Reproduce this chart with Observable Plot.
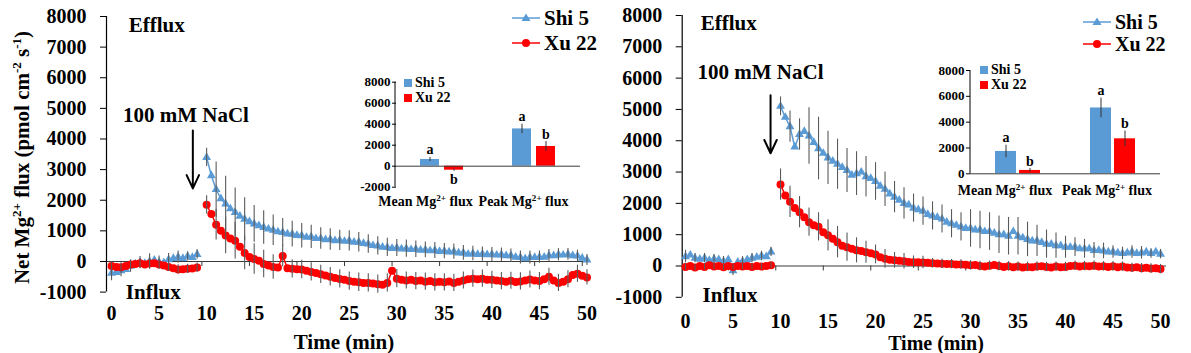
<!DOCTYPE html>
<html><head><meta charset="utf-8">
<script src="https://cdn.jsdelivr.net/npm/d3@7"></script>
<script src="https://cdn.jsdelivr.net/npm/@observablehq/plot@0.6"></script>
<style>
body{margin:0;background:#fff;}
#root{position:relative;width:1191px;height:353px;overflow:hidden;background:#fff;font-family:"Liberation Serif","Times New Roman",serif;font-weight:bold;color:#000}
#root sup{font-size:0.62em;vertical-align:0.55em;line-height:0}
#root svg text{font-family:"Liberation Serif","Times New Roman",serif;font-weight:bold}
</style></head><body><div id="root"></div>
<script>
// ---------- data ----------
const seriesNames = ["Shi 5", "Xu 22"];
const timePre = [0,0.5,1,1.5,2,2.5,3,3.5,4,4.5,5,5.5,6,6.5,7,7.5,8,8.5,9];
const timePost = [10,10.5,11,11.5,12,12.5,13,13.5,14,14.5,15,15.5,16,16.5,17,17.5,18,18.5,19,19.5,20,20.5,21,21.5,22,22.5,23,23.5,24,24.5,25,25.5,26,26.5,27,27.5,28,28.5,29,29.5,30,30.5,31,31.5,32,32.5,33,33.5,34,34.5,35,35.5,36,36.5,37,37.5,38,38.5,39,39.5,40,40.5,41,41.5,42,42.5,43,43.5,44,44.5,45,45.5,46,46.5,47,47.5,48,48.5,49,49.5,50];
const errTimePre = [0,1,2,3,4,5,6,7,8,9];
const errTimePost = [10,11,12,13,14,15,16,17,18,19,20,21,22,23,24,25,26,27,28,29,30,31,32,33,34,35,36,37,38,39,40,41,42,43,44,45,46,47,48,49,50];
const xTicks = [0,5,10,15,20,25,30,35,40,45,50];
const xMinorTicks = [4.5,9.5,14.5,19.5,24.5,29.5,34.5,39.5,44.5,49.5];
const yTicks = [-1000,0,1000,2000,3000,4000,5000,6000,7000,8000];

// left panel
const leftShiPre = [-380,-360,-300,-260,-150,-80,-40,-60,0,40,-20,-40,60,100,140,100,170,130,230];
const leftShiPost = [3400,2800,2350,2050,1880,1720,1600,1480,1380,1300, 1230,1170,1110,1060,1020,970,950,900,890,850, 840,790,800,750,750,710,720,680,690,660, 670,630,630,590,570,520,510,470,460,430, 440,410,420,390,400,370,380,350,360,330, 340,310,320,280,280,240,260,230,240,220, 230,210,220,190,190,140,130,90,130,130, 140,140,190,190,220,210,230,190,180,110, 50];
const leftXuPre = [-150,-180,-190,-150,-100,-80,-60,-100,-70,-60,-100,-130,-180,-220,-260,-250,-240,-230,-200];
const leftXuPost = [1850,1550,1200,1000,850,750,680,480,280,150, 80,20,-80,-130,-180,-200,180,-220,-240,-250, -260,-300,-340,-380,-420,-460,-500,-540,-570,-600, -640,-660,-680,-700,-700,-720,-740,-760,-700,-300, -560,-600,-620,-600,-640,-620,-660,-640,-680,-660, -680,-650,-700,-660,-620,-580,-560,-580,-560,-600, -600,-620,-640,-660,-630,-670,-650,-620,-590,-620, -640,-580,-500,-620,-700,-660,-580,-440,-400,-470, -520];
const leftShiErrPre = [250,200,200,200,250,200,200,200,150,150];
const leftShiErrPost = [300,900,900,800,700,600,550,500,450,420, 400,380,350,350,330,330,320,300,300,300, 280,280,270,260,260,250,250,240,240,230, 230,220,220,210,210,200,200,200,190,190, 180];
const leftXuErrPre = [150,150,150,150,150,150,150,150,150,150];
const leftXuErrPost = [300,500,600,600,550,500,450,400,350,300, 300,300,300,300,300,300,300,300,300,300, 300,280,280,280,280,280,280,280,280,280, 280,280,280,280,280,280,280,280,280,280, 250];
const leftNotes = [
  {x: 1.8, y: 7700, text: "Efflux"},
  {x: 1.5, y: -1010, text: "Influx"},
  {x: 1.2, y: 4770, text: "100 mM NaCl"}
];
const leftArrow = [{x: 8.55, y1: 4280, y2: 2385}];

// right panel
const rightShiPre = [300,350,250,220,250,180,220,200,150,200,-150,120,150,200,250,280,320,300,450];
const rightShiPost = [5100,4750,4450,3800,4200,4300,4150,3950,3750,3600, 3450,3350,3250,3150,3050,2900,2950,3000,2850,2800, 2700,2550,2450,2300,2200,2100,2000,1950,1850,1800, 1750,1650,1600,1550,1500,1400,1350,1300,1250,1200, 1200,1150,1150,1100,1100,1050,1000,1000,950,1100, 950,900,850,800,800,750,700,700,650,650, 600,600,600,550,550,550,500,500,480,450, 450,420,400,420,450,400,420,450,400,450, 380];
const rightXuPre = [-30,0,-50,0,-30,20,-20,0,-40,0,-30,0,-20,0,-30,0,-20,0,20];
const rightXuPost = [2600,2250,2050,1850,1720,1560,1400,1300,1250,1080, 980,870,760,650,600,550,500,480,440,410, 370,280,230,200,180,170,150,130,120,120, 110,100,90,80,70,60,60,50,50,40, 20,30,0,-20,10,30,0,-30,-10,-40, -20,-50,-30,-40,-20,-10,-30,-50,-20,-40, -30,0,10,-20,0,-10,10,-20,-10,-30, -10,-40,-20,-50,-60,-40,-70,-60,-80,-70, -100];
const rightShiErrPre = [200,150,150,150,150,150,150,150,150,150];
const rightShiErrPost = [300,500,500,900,1000,850,800,700,700,650, 600,550,500,500,450,450,450,450,450,450, 600,600,600,600,600,600,550,500,450,400, 350,300,300,250,250,200,200,200,200,150, 150];
const rightXuErrPre = [100,100,100,100,100,100,100,100,100,100];
const rightXuErrPost = [500,500,500,450,450,500,500,450,400,350, 300,300,250,250,200,200,150,150,150,150, 150,150,150,150,150,150,150,150,150,150, 150,150,150,150,150,150,150,150,150,150, 150];
const rightNotes = [
  {x: 1.6, y: 7750, text: "Efflux"},
  {x: 1.8, y: -950, text: "Influx"},
  {x: 1.26, y: 6180, text: "100 mM NaCl"}
];
const rightArrow = [{x: 8.95, y1: 5450, y2: 3600}];

// insets
const insetCats = ["Mean Mg2+ flux", "Peak Mg2+ flux"];
const leftInsetShi = [640, 3550], leftInsetShiErr = [200, 450];
const leftInsetXu = [-380, 1880], leftInsetXuErr = [100, 470];
const rightInsetShi = [1730, 5100], rightInsetShiErr = [480, 760];
const rightInsetXu = [260, 2710], rightInsetXuErr = [150, 600];
const insetLettersShi = ["a", "a"], insetLettersXu = ["b", "b"];
const leftInsetTicks = [-2000,0,2000,4000,6000,8000];
const rightInsetTicks = [0,2000,4000,6000,8000];

// ---------- drawing ----------
const blue = "#5B9BD5", red = "#FF0000", errGray = "#5a5a5a";
const root = document.getElementById("root");
const FONT = "Liberation Serif, Times New Roman, serif";

function put(el, left, top) {
  el.style.position = "absolute";
  el.style.left = left + "px";
  el.style.top = top + "px";
  root.appendChild(el);
}

function styleSvg(svg, size) {
  svg.setAttribute("font-family", FONT);
  svg.setAttribute("font-weight", "bold");
  svg.setAttribute("font-size", size);
  svg.style.fontFamily = FONT;
  svg.style.fontWeight = "bold";
  svg.style.overflow = "visible";
  svg.style.background = "transparent";
  svg.style.maxWidth = "none";
}

function mainChart(c) {
  const rows = [];
  const add = (times, vals, s, seg) => times.forEach((t, i) => rows.push({t, v: vals[i], s, seg}));
  add(timePre, c.shiPre, seriesNames[0], "a"); add(timePost, c.shiPost, seriesNames[0], "b");
  add(timePre, c.xuPre, seriesNames[1], "c"); add(timePost, c.xuPost, seriesNames[1], "d");
  const look = new Map(rows.map(d => [d.s + "|" + d.t, d.v]));
  const errs = [];
  const addErr = (times, es, s) => times.forEach((t, i) => {
    const v = look.get(s + "|" + t);
    errs.push({t, lo: v - es[i], hi: v + es[i], s});
  });
  addErr(errTimePre, c.shiErrPre, seriesNames[0]); addErr(errTimePost, c.shiErrPost, seriesNames[0]);
  addErr(errTimePre, c.xuErrPre, seriesNames[1]); addErr(errTimePost, c.xuErrPost, seriesNames[1]);
  const shi = rows.filter(d => d.s === seriesNames[0]);
  const xu = rows.filter(d => d.s === seriesNames[1]);
  const yDom = [yTicks[0], yTicks[yTicks.length - 1]];
  const svg = Plot.plot({
    width: c.width, height: 353,
    marginLeft: c.ml, marginRight: c.mr, marginTop: c.mt, marginBottom: c.mb,
    x: {domain: c.xDom, axis: null},
    y: {domain: yDom, axis: null},
    marks: [
      Plot.ruleY([0], {stroke: "#3a3a3a", strokeWidth: 1.2}),
      Plot.ruleX(xMinorTicks, {y1: 0, y2: c.minorLen, stroke: "#3a3a3a"}),
      Plot.ruleX([c.xDom[0]], {y1: yDom[0], y2: yDom[1], stroke: "#000", strokeWidth: 1.2}),
      Plot.axisY({ticks: yTicks, tickSize: 6, tickPadding: 14, tickFormat: d => String(d), fontSize: 20, fontFamily: FONT, fontWeight: "bold", label: null, stroke: "#000"}),
      Plot.axisX({ticks: xTicks, tickSize: 0, tickPadding: c.xPad, tickFormat: d => String(d), fontSize: 20, fontFamily: FONT, fontWeight: "bold", label: null}),
      Plot.line(shi, {x: "t", y: "v", z: "seg", stroke: blue, strokeWidth: 1.5}),
      Plot.dot(shi, {x: "t", y: "v", symbol: "triangle", r: 3.3, fill: blue}),
      Plot.ruleX(errs.filter(d => d.s === seriesNames[0]), {x: "t", y1: "lo", y2: "hi", stroke: errGray, strokeWidth: 1.1}),
      Plot.line(xu, {x: "t", y: "v", z: "seg", stroke: red, strokeWidth: 1.5}),
      Plot.dot(xu, {x: "t", y: "v", r: 4, fill: red}),
      Plot.ruleX(errs.filter(d => d.s === seriesNames[1]), {x: "t", y1: "lo", y2: "hi", stroke: errGray, strokeWidth: 1.1}),
      Plot.arrow(c.arrow, {x1: "x", x2: "x", y1: "y1", y2: "y2", stroke: "#000", strokeWidth: 2, headLength: 11, headAngle: 50}),
      Plot.text(c.notes, {x: "x", y: "y", text: "text", textAnchor: "start", fontSize: 21, fontFamily: FONT, fontWeight: "bold", fill: "#000"})
    ]
  });
  styleSvg(svg, 20);
  put(svg, c.left, 0);
}

function addSup(svg) {
  d3.select(svg).selectAll("text").each(function () {
    const node = this.querySelector("tspan") || this;
    const m = (node.textContent || "").match(/^(.*Mg)(2\+)(.*)$/);
    if (!m) return;
    const sel = d3.select(node);
    sel.text(null);
    sel.append("tspan").text(m[1]);
    sel.append("tspan").attr("baseline-shift", "super").attr("font-size", "65%").text(m[2]);
    sel.append("tspan").text(m[3]);
  });
}

function inset(c) {
  const rows = [];
  insetCats.forEach((cat, i) => {
    rows.push({cat, s: seriesNames[0], v: c.shi[i], e: c.shiErr[i], L: insetLettersShi[i]});
    rows.push({cat, s: seriesNames[1], v: c.xu[i], e: c.xuErr[i], L: insetLettersXu[i]});
  });
  const txt = {fontFamily: FONT, fontWeight: "bold", fill: "#000"};
  const svg = Plot.plot({
    width: c.width, height: c.height,
    marginLeft: c.ml, marginRight: c.mr, marginTop: c.mt, marginBottom: c.mb,
    fx: {domain: insetCats, padding: 0, axis: null},
    x: {domain: seriesNames, paddingInner: c.pi, paddingOuter: c.po, axis: null},
    y: {domain: [c.ticks[0], c.ticks[c.ticks.length - 1]], axis: null},
    color: {domain: seriesNames, range: [blue, red]},
    marks: [
      Plot.axisY({ticks: c.ticks, tickSize: 4, tickPadding: 2, tickFormat: d => String(d), fontSize: 13, label: null, stroke: "#000", ...txt}),
      Plot.axisFx({ticks: [insetCats[0]], anchor: "bottom", tickSize: 0, tickPadding: c.fxPad, fontSize: 14, label: null, dx: c.fxDx[0], ...txt}),
      Plot.axisFx({ticks: [insetCats[1]], anchor: "bottom", tickSize: 0, tickPadding: c.fxPad, fontSize: 14, label: null, dx: c.fxDx[1], ...txt}),
      Plot.barY(rows, {fx: "cat", x: "s", y: "v", fill: "s"}),
      Plot.ruleY([0], {stroke: "#3a3a3a"}),
      Plot.ruleX(rows, {fx: "cat", x: "s", y1: d => d.v - d.e, y2: d => d.v + d.e, stroke: "#333", strokeWidth: 1}),
      Plot.text(rows.filter(d => d.v >= 0), {fx: "cat", x: "s", y: d => d.v + d.e, text: "L", lineAnchor: "bottom", dy: -3, fontSize: 14, ...txt}),
      Plot.text(rows.filter(d => d.v < 0), {fx: "cat", x: "s", y: d => d.v - d.e, text: "L", lineAnchor: "top", dy: 3, fontSize: 14, ...txt})
    ]
  });
  // y-axis line along the frame's left edge
  d3.select(svg).append("line")
    .attr("x1", c.ml).attr("x2", c.ml)
    .attr("y1", c.mt).attr("y2", c.height - c.mb)
    .attr("stroke", "#000");
  styleSvg(svg, 13);
  addSup(svg);
  put(svg, c.left, c.top);
}

function mainLegend(left, centers, fs) {
  seriesNames.forEach((name, i) => {
    const div = document.createElement("div");
    div.style.cssText = `height:18px;display:flex;align-items:center;font-size:${fs}px;line-height:18px;white-space:nowrap`;
    const col = i === 0 ? blue : red;
    const marker = i === 0
      ? `<polygon points="14,4.5 18.5,12 9.5,12" fill="${col}"/>`
      : `<circle cx="14" cy="9" r="4" fill="${col}"/>`;
    div.innerHTML = `<svg width="28" height="18" style="display:block"><line x1="0" x2="28" y1="9" y2="9" stroke="${col}" stroke-width="1.5"/>${marker}</svg><span style="margin-left:4px">${name}</span>`;
    put(div, left, centers[i] - 9);
  });
}

function insetLegend(left, centers) {
  seriesNames.forEach((name, i) => {
    const div = document.createElement("div");
    div.style.cssText = "height:14px;display:flex;align-items:center;font-size:14px;line-height:14px;white-space:nowrap";
    div.innerHTML = `<span style="display:inline-block;width:8px;height:8px;background:${i === 0 ? blue : red}"></span><span style="margin-left:3px">${name}</span>`;
    put(div, left, centers[i] - 7);
  });
}

function label(html, cx, cy, fontSize, rotate) {
  const div = document.createElement("div");
  div.style.cssText = `width:320px;text-align:center;font-size:${fontSize}px;line-height:${fontSize}px;white-space:nowrap;` +
    (rotate ? "transform:rotate(-90deg);transform-origin:50% 50%;" : "");
  div.innerHTML = html;
  put(div, cx - 160, cy - fontSize / 2);
}

mainChart({
  left: 0, width: 600, ml: 106, mr: 10, mt: 16, mb: 61.4, xDom: [-0.53, 50.37], xPad: 14, minorLen: -165,
  shiPre: leftShiPre, shiPost: leftShiPost, xuPre: leftXuPre, xuPost: leftXuPost,
  shiErrPre: leftShiErrPre, shiErrPost: leftShiErrPost, xuErrPre: leftXuErrPre, xuErrPost: leftXuErrPost,
  notes: leftNotes, arrow: leftArrow
});
mainChart({
  left: 600, width: 591, ml: 81.7, mr: 25, mt: 15, mb: 56.2, xDom: [-0.35, 50.63], xPad: 16, minorLen: -160,
  shiPre: rightShiPre, shiPost: rightShiPost, xuPre: rightXuPre, xuPost: rightXuPost,
  shiErrPre: rightShiErrPre, shiErrPost: rightShiErrPost, xuErrPre: rightXuErrPre, xuErrPost: rightXuErrPost,
  notes: rightNotes, arrow: rightArrow
});

inset({left: 330, top: 60, width: 262, height: 150, ml: 65, mr: 12, mt: 21.7, mb: 23.3, pi: 0.2, po: 0.95, fxPad: 9.2, fxDx: [-17, -11],
  ticks: leftInsetTicks, shi: leftInsetShi, shiErr: leftInsetShiErr, xu: leftInsetXu, xuErr: leftInsetXuErr});
inset({left: 900, top: 50, width: 280, height: 150, ml: 70, mr: 20, mt: 20, mb: 26.7, pi: 0.12, po: 1.0, fxPad: 11, fxDx: [-13, -6],
  ticks: rightInsetTicks, shi: rightInsetShi, shiErr: rightInsetShiErr, xu: rightInsetXu, xuErr: rightInsetXuErr});

mainLegend(512, [18, 43], 21);
mainLegend(1083, [21.5, 44], 20);
insetLegend(404, [82.7, 98.3]);
insetLegend(980, [70, 85]);

label("Net Mg<sup>2+</sup> flux (pmol cm<sup>-2</sup> s<sup>-1</sup>)", 22, 157, 21, true);
label("Time (min)", 344, 342, 21, false);
label("Time (min)", 936, 343, 20, false);
</script>
</body></html>
